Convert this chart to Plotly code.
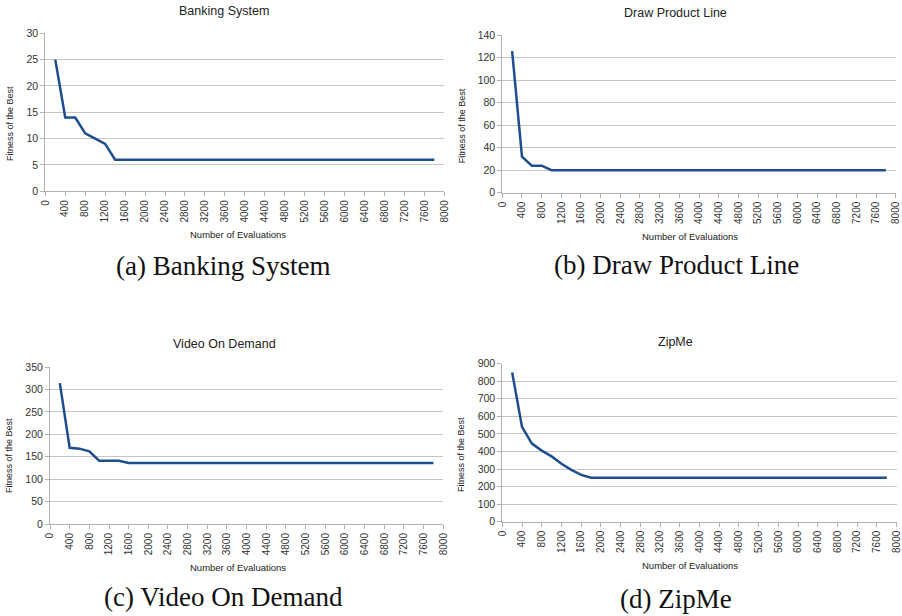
import plotly.graph_objects as go

W, H = 902, 616

evaluations = [200, 400, 600, 800, 1000, 1200, 1400, 1600, 1800, 2000,
               2200, 2400, 2600, 2800, 3000, 3200, 3400, 3600, 3800, 4000,
               4200, 4400, 4600, 4800, 5000, 5200, 5400, 5600, 5800, 6000,
               6200, 6400, 6600, 6800, 7000, 7200, 7400, 7600, 7800]

banking = [25, 14, 14, 11, 10, 9, 6, 6, 6, 6,
           6, 6, 6, 6, 6, 6, 6, 6, 6, 6,
           6, 6, 6, 6, 6, 6, 6, 6, 6, 6,
           6, 6, 6, 6, 6, 6, 6, 6, 6]

draw_product = [126, 32, 24, 24, 20, 20, 20, 20, 20, 20,
                20, 20, 20, 20, 20, 20, 20, 20, 20, 20,
                20, 20, 20, 20, 20, 20, 20, 20, 20, 20,
                20, 20, 20, 20, 20, 20, 20, 20, 20]

video = [314, 170, 168, 162, 141, 141, 141, 136, 136, 136,
         136, 136, 136, 136, 136, 136, 136, 136, 136, 136,
         136, 136, 136, 136, 136, 136, 136, 136, 136, 136,
         136, 136, 136, 136, 136, 136, 136, 136, 136]

zipme = [850, 540, 445, 405, 372, 330, 295, 267, 250, 250,
         250, 250, 250, 250, 250, 250, 250, 250, 250, 250,
         250, 250, 250, 250, 250, 250, 250, 250, 250, 250,
         250, 250, 250, 250, 250, 250, 250, 250, 250]

x_ticks = [0, 400, 800, 1200, 1600, 2000, 2400, 2800, 3200, 3600, 4000,
           4400, 4800, 5200, 5600, 6000, 6400, 6800, 7200, 7600, 8000]

chart_titles = ["Banking System", "Draw Product Line", "Video On Demand", "ZipMe"]
captions = ["(a) Banking System", "(b) Draw Product Line",
            "(c) Video On Demand", "(d) ZipMe"]
series = [banking, draw_product, video, zipme]
y_max = [30, 140, 350, 900]
y_step = [5, 20, 50, 100]
y_title = "Fitness of the Best"
x_title = "Number of Evaluations"

# layout (pixel positions)
plot_px = [  # x0, x1, ytop, ybottom
    (45.3, 444.3, 33.3, 191.3),
    (502.3, 895.7, 35.3, 192.7),
    (50.0, 443.3, 367.0, 524.0),
    (502.3, 896.7, 363.7, 521.7),
]
title_pos = [(224, 11), (675, 13), (224, 344), (675, 342)]
ytitle_pos = [(10, 124), (461.7, 125.5), (9, 456), (461, 455)]
xtitle_pos = [(238, 234), (690, 236), (238, 567), (690, 565)]
caption_pos = [(223, 266), (676, 265), (223, 597), (676, 599)]

LINE = "#1f4e8e"
GRID = "#c6c6c6"
AX = "#b3b3b3"
SANS = "Liberation Sans"
SERIF = "Liberation Serif"


def px(x):
    return x / W


def py(y):
    return 1 - y / H


fig = go.Figure()
annotations = []
for i in range(4):
    sfx = "" if i == 0 else str(i + 1)
    fig.add_trace(go.Scatter(
        x=evaluations, y=series[i], mode="lines",
        line=dict(color=LINE, width=2.5),
        xaxis="x" + sfx, yaxis="y" + sfx, showlegend=False,
        hoverinfo="x+y"))
    x0, x1, yt, yb = plot_px[i]
    fig.layout["xaxis" + sfx] = dict(
        domain=[px(x0), px(x1)], anchor="y" + sfx, range=[0, 8000],
        tickmode="array", tickvals=x_ticks, ticktext=[str(v) for v in x_ticks],
        tickangle=-90, showgrid=False, zeroline=False, automargin=False,
        showline=True, linecolor=AX, linewidth=1,
        ticks="outside", ticklen=4, tickcolor=AX,
        tickfont=dict(family=SANS, size=10, color="#333333"), fixedrange=True)
    fig.layout["yaxis" + sfx] = dict(
        domain=[py(yb), py(yt)], anchor="x" + sfx, range=[0, y_max[i]],
        dtick=y_step[i], tick0=0, showgrid=True, gridcolor=GRID, gridwidth=1,
        zeroline=False, showline=True, linecolor=AX, linewidth=1, automargin=False,
        ticks="outside", ticklen=4, tickcolor=AX,
        tickfont=dict(family=SANS, size=10.5, color="#333333"), fixedrange=True)

    tx, ty = title_pos[i]
    annotations.append(dict(text=chart_titles[i], x=px(tx), y=py(ty), xref="paper", yref="paper",
                            showarrow=False, xanchor="center", yanchor="middle",
                            font=dict(family=SANS, size=12.5, color="#222222")))
    ax_, ay_ = ytitle_pos[i]
    annotations.append(dict(text=y_title, x=px(ax_), y=py(ay_), xref="paper", yref="paper",
                            showarrow=False, xanchor="center", yanchor="middle", textangle=-90,
                            font=dict(family=SANS, size=9, color="#222222")))
    bx, by = xtitle_pos[i]
    annotations.append(dict(text=x_title, x=px(bx), y=py(by), xref="paper", yref="paper",
                            showarrow=False, xanchor="center", yanchor="middle",
                            font=dict(family=SANS, size=9.5, color="#222222")))
    cx, cy = caption_pos[i]
    annotations.append(dict(text=captions[i], x=px(cx), y=py(cy), xref="paper", yref="paper",
                            showarrow=False, xanchor="center", yanchor="middle",
                            font=dict(family=SERIF, size=27, color="#111111")))

fig.update_layout(
    width=W, height=H, margin=dict(l=0, r=0, t=0, b=0, autoexpand=False),
    paper_bgcolor="white", plot_bgcolor="white",
    annotations=annotations, showlegend=False)

fig.write_html("out.html",
               config={"displayModeBar": False},
               post_script="document.body.style.margin='0px';document.body.style.overflow='hidden';")
